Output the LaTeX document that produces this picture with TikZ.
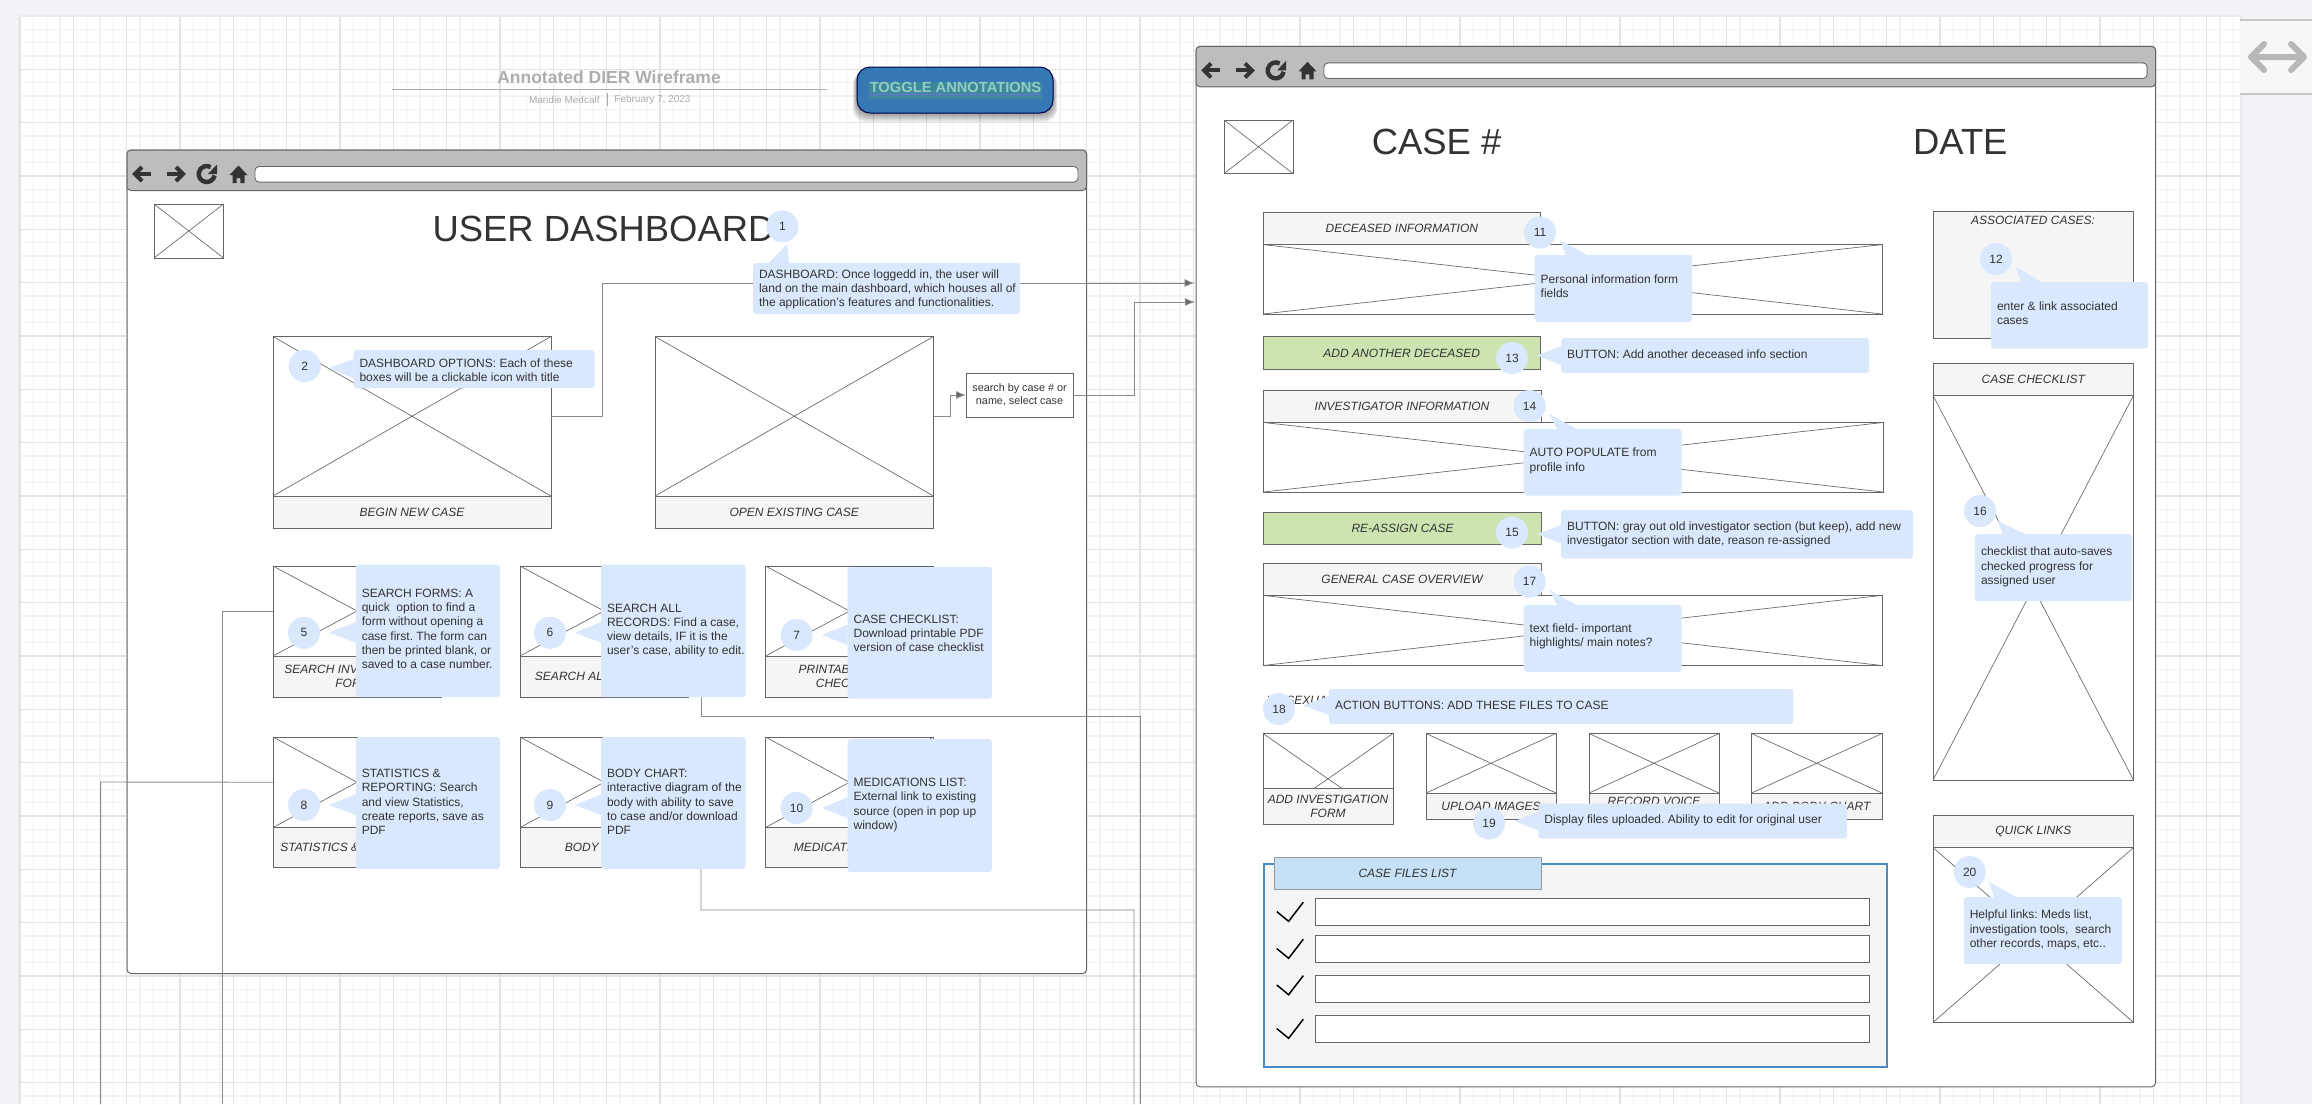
\documentclass[tikz,border=0pt]{standalone}
\usepackage{fontspec}
\setmainfont{Liberation Sans}
\usetikzlibrary{arrows.meta}
\frenchspacing
\definecolor{pagebg}{HTML}{F1F3F6}
\definecolor{gridminor}{HTML}{F3F3F3}
\definecolor{gridmajor}{HTML}{E3E3E3}
\definecolor{notefill}{HTML}{D9E8FD}
\definecolor{ink}{HTML}{333333}
\definecolor{edge}{HTML}{666666}
\definecolor{greenbtn}{HTML}{CDE4B1}
\definecolor{lab}{HTML}{F5F5F5}
\definecolor{bluehead}{HTML}{C6E1F5}
\definecolor{blueedge}{HTML}{4A8BC4}
\definecolor{wire}{HTML}{8A8A8A}
\definecolor{btnblue}{RGB}{53,120,180}
\definecolor{btnband}{RGB}{62,136,156}
\definecolor{btntext}{RGB}{146,204,196}
\definecolor{btnline}{RGB}{112,110,225}
\tikzset{
  box/.style={draw=edge,line width=0.45pt,fill=white,inner sep=0pt,outer sep=0pt,align=center,text=ink,font=\fontsize{6}{7}\selectfont\itshape},
  labbox/.style={fill=lab},
  xline/.style={draw=edge,line width=0.33pt},
  notebox/.style={fill=notefill,rounded corners=1.5pt,inner sep=0pt,outer sep=0pt},
  notetext/.style={inner sep=0pt,outer sep=0pt,align=left,text=ink,font=\fontsize{6}{7.15}\selectfont},
  circ/.style={circle,fill=notefill,minimum size=16pt,inner sep=0pt,outer sep=0pt,text=ink,font=\fontsize{6}{7}\selectfont},
  conn/.style={draw=wire,line width=0.45pt},
  connarrow/.style={conn,-{Latex[length=5pt,width=4pt,fill=edge]}},
  bigtext/.style={inner sep=0pt,outer sep=0pt,text=ink,font=\fontsize{18.2}{20}\selectfont}
}
% [style]{name}{x0}{y0}{x1}{y1}{text}
\newcommand{\wbox}[7][]{\node[box,#1,minimum width={(#5-#3)*0.5pt},minimum height={(#6-#4)*0.5pt}] (#2) at ({(#3+#5)/2},{(#4+#6)/2}) {#7};}
% box with a cross
\newcommand{\wimg}[6][]{\wbox[#1]{#2}{#3}{#4}{#5}{#6}{}\draw[xline] (#2.north west) -- (#2.south east) (#2.north east) -- (#2.south west);}
% {name}{x0}{y0}{x1}{y1}{ytext}{text}
\newcommand{\wnote}[7]{\node[notebox,minimum width={(#4-#2)*0.5pt},minimum height={(#5-#3)*0.5pt}] (#1) at ({(#2+#4)/2},{(#3+#5)/2}) {};
  \node[notetext,anchor=west] (#1-t) at ({#2+6},#6) {#7};}
\newcommand{\ptr}[3]{\fill[notefill] #1 -- #2 -- #3 -- cycle;}
% browser window {name}{x0}{y0}{x1}{y1}{header bottom}
\newcommand{\wbrowser}[6]{%
  \node[draw=edge,line width=0.5pt,fill=white,rounded corners=2pt,inner sep=0pt,outer sep=0pt,minimum width={(#4-#2)*0.5pt},minimum height={(#5-#3)*0.5pt}] (#1) at ({(#2+#4)/2},{(#3+#5)/2}) {};
  \node[draw=edge,line width=0.5pt,fill=black!26,rounded corners=2pt,inner sep=0pt,outer sep=0pt,minimum width={(#4-#2)*0.5pt},minimum height={(#6-#3)*0.5pt}] (#1-head) at ({(#2+#4)/2},{(#3+#6)/2}) {};
  \node[draw=edge,line width=0.45pt,fill=white,rounded corners=2pt,inner sep=0pt,outer sep=0pt,minimum width={(#4-8.5-#2-128)*0.5pt},minimum height=7.8pt] (#1-url) at ({(#2+128+#4-8.5)/2},{#3+24.3}) {};
  \begin{scope}[shift={({#2-127},{#3-150})}]
    \draw[ink,line width=2pt] (151,174) -- (135,174);
    \draw[ink,line width=2pt,miter limit=2] (142,167) -- (135,174) -- (142,181);
    \draw[ink,line width=2pt] (167,174) -- (183,174);
    \draw[ink,line width=2pt,miter limit=2] (176,167) -- (183,174) -- (176,181);
    \draw[ink,line width=2.2pt] ([shift={(-10:4pt)}]206.7,174) arc[start angle=-10,end angle=-300,radius=4pt];
    \fill[ink] (217,164.5) -- (217,174) -- (208,174) -- cycle;
    \fill[ink] (238.5,165.5) -- (247.5,175) -- (244.5,175) -- (244.5,183) -- (240.3,183) -- (240.3,178) -- (236.7,178) -- (236.7,183) -- (232.5,183) -- (232.5,175) -- (229.5,175) -- cycle;
  \end{scope}}
\begin{document}
\begin{tikzpicture}[x=0.5pt,y=-0.5pt]
\useasboundingbox (0,0) rectangle (2312,1104);
\clip (0,0) rectangle (2312,1104);
% page and canvas
\fill[pagebg] (0,0) rectangle (2312,1104);
\fill[black!8] (18,15) rectangle (2242,1104);
\fill[white] (20,17) rectangle (2240,1104);
\foreach \i in {0,...,166} \draw[gridminor,line width=0.55pt] ({20+13.333*\i},17) -- ({20+13.333*\i},1104);
\foreach \i in {1,...,81} \draw[gridminor,line width=0.55pt] (20,{16+13.333*\i}) -- (2240,{16+13.333*\i});
\foreach \i in {0,...,41} \draw[gridmajor,line width=0.55pt] ({20+53.333*\i},17) -- ({20+53.333*\i},1104);
\foreach \i in {1,...,20} \draw[gridmajor,line width=0.55pt] (20,{16+53.333*\i}) -- (2240,{16+53.333*\i});
% side panel
\fill[white!97!black] (2240,21) rectangle (2312,93);
\draw[black!22,line width=1pt] (2240,20) -- (2312,20) (2240,93.5) -- (2312,93.5);
\draw[black!28,line width=3pt,line cap=round,line join=round] (2252,57) -- (2303,57) (2264,44) -- (2251,57) -- (2264,70) (2291,44) -- (2304,57) -- (2291,70);
% heading
\node[inner sep=0pt,text=black!32,font=\fontsize{8.75}{10}\selectfont\bfseries] (title) at (609,77) {Annotated DIER Wireframe};
\coordinate (ruleL) at (392,89.3);
\coordinate (ruleR) at (827,89.3);
\draw[black!32,line width=0.7pt] (ruleL) -- (ruleR);
\node[inner sep=0pt,anchor=east,text=black!32,font=\fontsize{5}{6}\selectfont] (author) at (600,99.6) {Mandie Medcalf};
\node[inner sep=0pt,anchor=west,text=black!32,font=\fontsize{5}{6}\selectfont] (tdate) at (614,99.6) {February 7, 2023};
\draw[black!32,line width=0.4pt] (607,93) -- (607,106);
% toggle button
\foreach \k in {1,...,6} \fill[black,opacity=0.07,rounded corners=6.5pt] ({857-\k*0.7},{67+\k*0.8}) rectangle ({1053+\k*0.7},{113+\k*1.5});
\node[draw=black!70!blue,line width=0.5pt,fill=btnblue,rounded corners=6.5pt,minimum width=98pt,minimum height=23pt,inner sep=0pt,outer sep=0pt] (toggle) at (955,90) {};
\fill[btnband] (869,82) rectangle (1042,99);
\node[inner sep=0pt,text=btntext,font=\fontsize{7.35}{9}\selectfont\bfseries] (toggle-t) at (955.5,87.7) {TOGGLE ANNOTATIONS};
\draw[btnline,line width=0.5pt] (869,94.5) -- (1042,94.5);
% ---------- left window
\wbrowser{winA}{127}{150}{1086.5}{973.5}{190.5}
\wimg{logoA}{154}{204}{223.5}{258}
\node[bigtext] (dashtitle) at (603.5,228.5) {USER DASHBOARD};
\wimg{begin}{273}{336.5}{551}{496}
\wbox[labbox]{beginL}{273}{496}{551}{528}{BEGIN NEW CASE}
\wimg{open}{655}{336.5}{933.5}{496}
\wbox[labbox]{openL}{655}{496}{933.5}{528}{OPEN EXISTING CASE}
\node[box,font=\fontsize{5.4}{6.45}\selectfont,minimum width=53.5pt,minimum height=22pt] (search) at (1019.5,395) {search by case \# or\\name, select case};
% small tiles
\wimg{t5}{273}{566}{441}{656}
\wbox[labbox]{t5L}{273}{656}{441}{697}{SEARCH INVESTIGATION\\FORMS}
\wimg{t6}{520}{566}{688}{656}
\wbox[labbox]{t6L}{520}{656}{688}{697}{SEARCH ALL RECORDS}
\wimg{t7}{765.5}{566}{933.5}{656}
\wbox[labbox]{t7L}{765.5}{656}{933.5}{697}{PRINTABLE CASE\\CHECKLIST}
\wimg{t8}{273}{737}{441}{827.5}
\wbox[labbox]{t8L}{273}{827.5}{441}{867.7}{STATISTICS \& REPORTING}
\wimg{t9}{520}{737}{688}{827.5}
\wbox[labbox]{t9L}{520}{827.5}{688}{867.7}{BODY CHART}
\wimg{t10}{765.5}{737}{933.5}{827.5}
\wbox[labbox]{t10L}{765.5}{827.5}{933.5}{867.7}{MEDICATIONS LIST}
% ---------- right window
\wbrowser{winB}{1196}{46.4}{2155.6}{1086.8}{86.8}
\wimg{logoB}{1224}{120}{1293}{173.6}
\node[bigtext] (caseno) at (1436.6,142) {CASE \#};
\node[bigtext] (datehd) at (1960.3,142) {DATE};
\wbox[labbox]{decL}{1263}{212.5}{1540.6}{244.6}{DECEASED INFORMATION}
\wimg{dec}{1263}{244.6}{1882}{314}
\wbox[fill=greenbtn]{addDec}{1263}{336.8}{1540.6}{369.3}{ADD ANOTHER DECEASED}
\wbox[labbox]{invL}{1263}{390}{1541}{422.5}{INVESTIGATOR INFORMATION}
\wimg{inv}{1263.6}{422.5}{1883}{492}
\wbox[fill=greenbtn]{reassign}{1263.6}{512.5}{1541.5}{544.6}{RE-ASSIGN CASE}
\wbox[labbox]{genL}{1263}{563.4}{1541}{595.4}{GENERAL CASE OVERVIEW}
\wimg{gen}{1263}{595.4}{1882}{665.5}
\node[inner sep=0pt,anchor=west,text=ink,font=\fontsize{6}{7}\selectfont\itshape] (sexual) at (1266,700) {I\hspace{8.35pt}SEXUAL};
\wimg{upA}{1263}{733.5}{1393}{824}
\wbox[labbox]{upAL}{1263}{788}{1393}{824}{ADD INVESTIGATION\\FORM}
\wimg{upB}{1426}{733.5}{1556}{793}
\wbox[labbox]{upBL}{1426}{793}{1556}{819}{UPLOAD IMAGES}
\wimg{upC}{1589}{733.5}{1719}{793}
\node[box,labbox,minimum width=65pt,minimum height=13pt] (upCL) at (1654,806) {};
\node[inner sep=0pt,text=ink,font=\fontsize{6}{7}\selectfont\itshape] (upCt) at (1654,801.5) {RECORD VOICE};
\wimg{upD}{1751.5}{733.5}{1882}{793}
\wbox[labbox]{upDL}{1751.5}{793}{1882}{819}{ADD BODY CHART}
% case files list
\node[draw=blueedge,line width=0.8pt,fill=lab,inner sep=0pt,outer sep=0pt,minimum width=311.5pt,minimum height=101.6pt] (files) at (1575.2,965.4) {};
\wbox[fill=bluehead,draw=black!40]{filesH}{1274}{857}{1541}{889}{CASE FILES LIST}
\foreach \n/\a/\b/\d in {1/898.6/925.3/0,2/935.3/962.3/37,3/975.3/1002.2/73.4,4/1015.5/1042.5/117}{
  \wbox{row\n}{1315}{\a}{1869}{\b}{}
  \draw[black,line width=0.75pt,line join=miter] (1276.8,{911.6+\d}) -- (1288.6,{921.3+\d}) -- (1303.3,{902.2+\d});
}
% right column
\wbox[labbox]{assoc}{1933}{211.4}{2133.5}{338}{}
\node[inner sep=0pt,text=ink,font=\fontsize{6}{7}\selectfont\itshape] (assoc-t) at (2033,220.7) {ASSOCIATED CASES:};
\wbox[labbox]{chkL}{1933}{363.2}{2133.5}{395.4}{CASE CHECKLIST}
\wimg{chk}{1933}{395.4}{2133.5}{780}
\wbox[labbox]{quickL}{1933}{815.5}{2133.5}{847.6}{QUICK LINKS}
\wimg{quick}{1933}{847.6}{2133.5}{1022.4}
% ---------- connectors
\coordinate (r1) at (602,283);
\coordinate (r1t) at (1194.5,283);
\coordinate (r2) at (1134.6,302);
\coordinate (r2t) at (1195,302);
\coordinate (m1) at (950,395);
\coordinate (c6a) at (701,611);
\coordinate (c6b) at (701,716.5);
\coordinate (c6c) at (1140,716.5);
\coordinate (c6d) at (1140,1104);
\coordinate (c9a) at (701,782);
\coordinate (c9b) at (701,910);
\coordinate (c9c) at (1134,910);
\coordinate (c9d) at (1134,1104);
\coordinate (c5a) at (222,611);
\coordinate (c5b) at (222,1104);
\coordinate (c8a) at (100.6,782);
\coordinate (c8b) at (100.6,1104);
\draw[connarrow] (begin.east) -| (r1) -- (r1t);
\draw[connarrow] (search.east) -| (r2) -- (r2t);
\draw[connarrow] (open.east) -| (m1) -- (search.west);
\draw[conn] (t6.east) -- (c6a) -- (c6b) -- (c6c) -- (c6d);
\draw[conn] (t9.east) -- (c9a) -- (c9b) -- (c9c) -- (c9d);
\draw[conn] (t5.west) -- (c5a) -- (c5b);
\draw[conn] (t8.west) -- (c8a) -- (c8b);
% ---------- annotations
\ptr{(787,244)}{(769,263)}{(789,263)}
\wnote{n1}{753}{263}{1020}{314}{289.3}{DASHBOARD: Once loggedd in, the user will\\land on the main dashboard, which houses all of\\the application's features and functionalities.}
\node[circ] (c1) at (782.5,226.5) {1};
\ptr{(329,368)}{(353.5,359)}{(353.5,378.5)}
\wnote{n2}{353.5}{350}{594.7}{388}{370.3}{DASHBOARD OPTIONS: Each of these\\boxes will be a clickable icon with title}
\node[circ] (c2) at (304.7,366) {2};
\ptr{(329,632.8)}{(355.8,622)}{(355.8,642.5)}
\wnote{n5}{355.8}{564.5}{500}{697}{629}{SEARCH FORMS: A\\quick\ \ option to find a\\form without opening a\\case first. The form can\\then be printed blank, or\\saved to a case number.}
\node[circ] (c5) at (304,632.8) {5};
\ptr{(575,632.8)}{(601,622)}{(601,642.5)}
\wnote{n6}{601}{564.5}{745.5}{697}{630.5}{SEARCH ALL\\RECORDS: Find a case,\\view details, IF it is the\\user's case, ability to edit.}
\node[circ] (c6) at (550,632.8) {6};
\ptr{(822,635)}{(847.6,624.5)}{(847.6,645)}
\wnote{n7}{847.6}{567}{992}{698.6}{633.5}{CASE CHECKLIST:\\Download printable PDF\\version of case checklist}
\node[circ] (c7) at (796.6,635) {7};
\ptr{(329,805)}{(355.8,794.5)}{(355.8,815)}
\wnote{n8}{355.8}{737}{500}{869}{802}{STATISTICS \&\\REPORTING: Search\\and view Statistics,\\create reports, save as\\PDF}
\node[circ] (c8) at (304,805) {8};
\ptr{(575,805)}{(601,794.5)}{(601,815)}
\wnote{n9}{601}{737}{745.5}{869}{802}{BODY CHART:\\interactive diagram of the\\body with ability to save\\to case and/or download\\PDF}
\node[circ] (c9) at (550,805) {9};
\ptr{(822,808)}{(847.6,797.5)}{(847.6,818)}
\wnote{n10}{847.6}{739}{992}{872}{805}{MEDICATIONS LIST:\\External link to existing\\source (open in pop up\\window)}
\node[circ] (c10) at (796.6,808) {10};
\ptr{(1560.4,240.4)}{(1565.6,255)}{(1587.6,255)}
\wnote{n11}{1534.7}{255}{1692}{322}{286.3}{Personal information form\\fields}
\node[circ] (c11) at (1540,232.5) {11};
\ptr{(2016,267)}{(2021,282)}{(2041.7,282)}
\wnote{n12}{1991}{282}{2148}{348.6}{313.2}{enter \& link associated\\cases}
\node[circ] (c12) at (1996,259) {12};
\ptr{(1537,355.4)}{(1561,346.4)}{(1561,365)}
\wnote{n13}{1561}{338}{1869}{373}{354}{BUTTON: Add another deceased info section}
\node[circ] (c13) at (1512,358) {13};
\ptr{(1549.4,414)}{(1556.8,429)}{(1576.6,429)}
\wnote{n14}{1523.7}{429}{1681.7}{495.7}{460.8}{AUTO POPULATE from\\profile info}
\node[circ] (c14) at (1529.6,406) {14};
\ptr{(1537,534)}{(1561,525)}{(1561,543.5)}
\wnote{n15}{1561}{510}{1913}{558.7}{534.5}{BUTTON: gray out old investigator section (but keep), add new\\investigator section with date, reason re-assigned}
\node[circ] (c15) at (1512,532.5) {15};
\ptr{(1997.6,520.7)}{(2002.8,534)}{(2024.8,534)}
\wnote{n16}{1975}{534}{2132}{601}{567}{checklist that auto-saves\\checked progress for\\assigned user}
\node[circ] (c16) at (1980,511) {16};
\ptr{(1549.4,590)}{(1556.8,605)}{(1576.6,605)}
\wnote{n17}{1523.7}{605}{1681.7}{672}{636.2}{text field- important\\highlights/ main notes?}
\node[circ] (c17) at (1529.6,581.7) {17};
\ptr{(1303,705.5)}{(1329,696)}{(1329,715)}
\wnote{n18}{1329}{689}{1793.4}{724}{705}{ACTION BUTTONS: ADD THESE FILES TO CASE}
\node[circ] (c18) at (1279,709) {18};
\ptr{(1515,821)}{(1538.4,811.6)}{(1538.4,830.6)}
\wnote{n19}{1538.4}{803.7}{1847}{838.6}{820}{Display files uploaded. Ability to edit for original user}
\node[circ] (c19) at (1489,823.5) {19};
\ptr{(1988.8,881.7)}{(1994,897)}{(2016,897)}
\wnote{n20}{1963.8}{897}{2121.8}{964}{930}{Helpful links: Meds list,\\investigation tools,\ \ search\\other records, maps, etc..}
\node[circ] (c20) at (1969.7,872) {20};
\end{tikzpicture}
\end{document}
